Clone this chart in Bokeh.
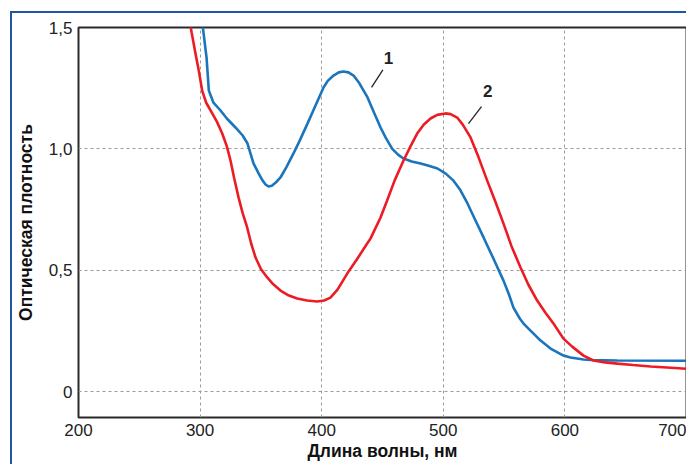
from bokeh.plotting import figure
from bokeh.models import Range1d, FixedTicker, ColumnDataSource
from bokeh.core.properties import value
from bokeh.embed import file_html
from bokeh.resources import INLINE

# Curve 1 (blue)
wl1 = [301.0, 303.0, 305.3, 307.2, 311.0, 316.8, 322.0, 329.1, 335.0, 339.0, 343.9, 348.0,
       351.3, 354.0, 356.3, 359.0, 362.0, 366.1, 371.0, 376.8, 382.0, 388.3, 395.0, 401.5,
       405.0, 409.7, 414.0, 417.9, 422.0, 426.2, 431.0, 437.7, 443.0, 448.4, 452.5, 458.0,
       463.0, 467.3, 474.0, 481.3, 488.0, 495.2, 502.0, 508.4, 514.0, 519.9, 526.0, 533.1,
       541.0, 549.5, 554.0, 557.7, 563.0, 566.0, 571.7, 580.0, 588.2, 598.8, 604.6, 615.3,
       621.0, 643.0, 700.0]
od1 = [1.55, 1.47, 1.376, 1.24, 1.19, 1.158, 1.125, 1.088, 1.055, 1.022, 0.94, 0.90,
       0.870, 0.852, 0.845, 0.848, 0.860, 0.882, 0.925, 0.981, 1.035, 1.104, 1.18, 1.253,
       1.28, 1.302, 1.315, 1.319, 1.315, 1.302, 1.27, 1.212, 1.15, 1.088, 1.047, 1.00,
       0.975, 0.960, 0.948, 0.940, 0.930, 0.919, 0.898, 0.869, 0.83, 0.775, 0.71, 0.635,
       0.55, 0.457, 0.40, 0.346, 0.30, 0.28, 0.251, 0.21, 0.177, 0.148, 0.140, 0.132,
       0.130, 0.128, 0.127]

# Curve 2 (red)
wl2 = [290.5, 293.0, 296.2, 299.0, 301.7, 305.0, 310.0, 314.0, 318.2, 322.0, 325.0, 328.0,
       331.6, 335.0, 338.7, 342.0, 345.6, 350.0, 355.2, 360.0, 366.1, 372.0, 379.8, 388.0,
       396.3, 402.0, 407.2, 413.0, 421.0, 429.0, 437.4, 440.1, 448.4, 453.8, 460.0, 467.3,
       473.0, 478.5, 484.0, 489.5, 495.0, 501.8, 506.0, 511.4, 516.0, 522.4, 529.0, 536.1,
       543.0, 549.5, 556.0, 563.5, 570.0, 577.2, 584.0, 590.6, 598.8, 606.0, 615.3, 623.5,
       633.0, 643.3, 656.0, 670.4, 684.0, 700.0]
od2 = [1.55, 1.48, 1.393, 1.32, 1.24, 1.19, 1.146, 1.11, 1.063, 1.01, 0.952, 0.88,
       0.80, 0.735, 0.676, 0.61, 0.552, 0.505, 0.470, 0.443, 0.416, 0.398, 0.383, 0.375,
       0.371, 0.375, 0.387, 0.42, 0.486, 0.545, 0.61, 0.63, 0.717, 0.787, 0.87, 0.952,
       1.01, 1.063, 1.10, 1.125, 1.14, 1.146, 1.143, 1.129, 1.10, 1.047, 0.965, 0.869,
       0.78, 0.692, 0.60, 0.511, 0.44, 0.375, 0.325, 0.28, 0.218, 0.185, 0.148, 0.128,
       0.12, 0.115, 0.109, 0.103, 0.099, 0.094]

x_ticks = [200, 300, 400, 500, 600, 700]
y_ticks = [0, 0.5, 1.0, 1.5]
y_tick_labels = ["0", "0,5", "1,0", "1,5"]

curve_labels = ["1", "2"]
label_x = [455.0, 536.5]
label_y = [1.375, 1.24]
leader_x0 = [441.0, 520.7]
leader_y0 = [1.253, 1.104]
leader_x1 = [450.3, 531.4]
leader_y1 = [1.325, 1.174]

BLUE = "#1b75bc"
RED = "#ec1c24"

p = figure(width=676, height=453, output_backend="svg", toolbar_location=None,
           x_range=Range1d(200, 700), y_range=Range1d(-0.107, 1.5),
           min_border_left=66, min_border_right=2, min_border_top=14, min_border_bottom=49)
p.margin = (11, 0, 0, 10)
p.styles = {"border-top": "2px solid #1d57a3", "border-left": "2px solid #1d57a3"}
p.background_fill_color = "white"
p.border_fill_color = "white"
p.outline_line_color = "#2a2a2a"
p.outline_line_width = 2

p.xaxis.ticker = FixedTicker(ticks=x_ticks)
p.yaxis.ticker = FixedTicker(ticks=y_ticks)
p.yaxis.major_label_overrides = {t: s for t, s in zip(y_ticks, y_tick_labels)}
p.xaxis.major_label_overrides = {t: str(t) for t in x_ticks}

for ax in (p.xaxis, p.yaxis):
    ax.axis_line_color = None
    ax.major_tick_line_color = None
    ax.minor_tick_line_color = None
    ax.major_tick_out = 0
    ax.major_tick_in = 0
    ax.minor_tick_out = 0
    ax.minor_tick_in = 0
    ax.major_label_text_font = "Liberation Sans"
    ax.major_label_text_font_size = "17px"
    ax.major_label_text_color = "#222222"
    ax.axis_label_text_font = "Liberation Sans"
    ax.axis_label_text_font_style = "bold"
    ax.axis_label_text_color = "#111111"

p.xaxis.axis_label = "Длина волны, нм"
p.yaxis.axis_label = "Оптическая плотность"
p.xaxis.axis_label_text_font_size = "17.5px"
p.yaxis.axis_label_text_font_size = "17.5px"
p.xaxis.major_label_standoff = 6
p.xaxis.axis_label_standoff = 2
p.yaxis.major_label_standoff = 6
p.yaxis.axis_label_standoff = 10

p.grid.grid_line_color = "#9a9a9a"
p.grid.grid_line_dash = "3 3"
p.grid.grid_line_width = 1

p.line(wl1, od1, line_color=BLUE, line_width=2.6)
p.line(wl2, od2, line_color=RED, line_width=2.6)

p.segment(x0=leader_x0, y0=leader_y0, x1=leader_x1, y1=leader_y1,
          line_color="#222222", line_width=1.3)
src = ColumnDataSource(dict(x=label_x, y=label_y, t=curve_labels))
p.text(x="x", y="y", text="t", source=src, text_font=value("Liberation Sans"),
       text_font_size="17px", text_font_style="bold", text_color="#222222",
       text_align="center", text_baseline="middle")

open("out.html", "w").write(file_html(p, INLINE))
